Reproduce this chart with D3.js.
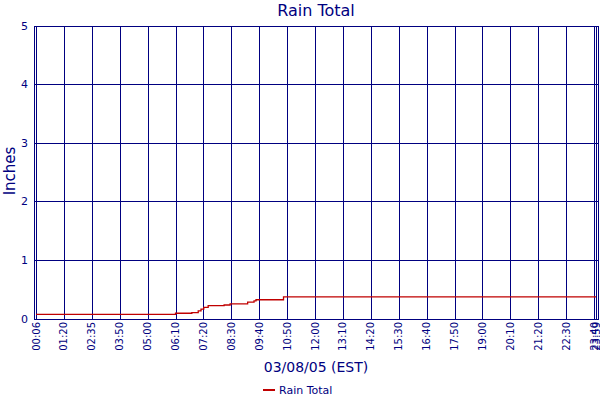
<!DOCTYPE html>
<html>
<head>
<meta charset="utf-8">
<script src="https://cdn.jsdelivr.net/npm/d3@7"></script>
<style>
  body { margin: 0; background: #fff; }
  svg { display: block; font-family: "DejaVu Sans", Verdana, sans-serif; }
</style>
</head>
<body>
<div id="chart"></div>
<script>
// rain total, 03/08/05 -- times are "HH:MM", values in inches
const rainTimes = ["00:06", "06:10", "06:51", "07:07", "07:14", "07:21", "07:32", "08:12", "08:27", "09:11", "09:27", "09:32", "10:41", "23:59"];
const rainValues = [0.07, 0.09, 0.10, 0.13, 0.16, 0.19, 0.22, 0.23, 0.25, 0.28, 0.30, 0.32, 0.37, 0.37];

const xTickLabels = ["00:06", "01:20", "02:35", "03:50", "05:00", "06:10", "07:20", "08:30", "09:40", "10:50",
    "12:00", "13:10", "14:20", "15:30", "16:40", "17:50", "19:00", "20:10", "21:20", "22:30", "23:40", "23:59"];
const yTicks = [0, 1, 2, 3, 4, 5];

const navy = "#000080";
const width = 600, height = 400;
const plotLeft = 34, plotRight = 598;
const firstTickX = 36, tickStep = 27.9;

const toMin = s => { const p = s.split(":"); return +p[0] * 60 + +p[1]; };

const svg = d3.select("#chart").append("svg")
    .attr("width", width)
    .attr("height", height);

// the original axis is sample-indexed: labels sit at even spacing,
// the last one is squeezed in right after 23:40
const tickMins = xTickLabels.map(toMin);
const tickPos = tickMins.map((m, i) => i < tickMins.length - 1 ? firstTickX + i * tickStep : firstTickX + (i - 1) * tickStep + 2);
const x = d3.scaleLinear()
    .domain(tickMins)
    .range(tickPos);

const y = d3.scaleLinear()
    .domain([0, 5])
    .range([318.5, 25.5]);

const grid = svg.append("g").attr("stroke", navy).attr("stroke-width", 1).attr("fill", "none");

// horizontal grid
grid.selectAll("line.h")
    .data(yTicks)
    .enter().append("line")
    .attr("x1", plotLeft).attr("x2", plotRight)
    .attr("y1", d => Math.round(y(d)) + 0.5)
    .attr("y2", d => Math.round(y(d)) + 0.5);

// vertical grid
grid.selectAll("line.v")
    .data(xTickLabels)
    .enter().append("line")
    .attr("x1", d => Math.round(x(toMin(d))) + 0.5)
    .attr("x2", d => Math.round(x(toMin(d))) + 0.5)
    .attr("y1", Math.round(y(5)) + 0.5)
    .attr("y2", Math.round(y(0)) + 0.5);

// plot border
grid.append("rect")
    .attr("x", plotLeft + 0.5)
    .attr("y", Math.round(y(5)) + 0.5)
    .attr("width", plotRight - plotLeft)
    .attr("height", Math.round(y(0)) - Math.round(y(5)));

// data line
const pts = rainTimes.map((t, i) => [toMin(t), rainValues[i]]);
svg.append("path")
    .datum(pts)
    .attr("fill", "none")
    .attr("stroke", "#c00000")
    .attr("stroke-width", 1.3)
    .attr("d", d3.line()
        .x(d => x(d[0]))
        .y(d => y(d[1]))
        .curve(d3.curveStepAfter));

// y tick labels
svg.append("g").selectAll("text")
    .data(yTicks)
    .enter().append("text")
    .attr("x", 28)
    .attr("y", d => y(d) + 4)
    .attr("text-anchor", "end")
    .attr("font-size", 11)
    .attr("fill", navy)
    .text(d => d);

// x tick labels, rotated
svg.append("g").selectAll("text")
    .data(xTickLabels)
    .enter().append("text")
    .attr("transform", d => `translate(${x(toMin(d)) + 3.5},322) rotate(-90)`)
    .attr("text-anchor", "end")
    .attr("font-size", 10)
    .attr("fill", navy)
    .text(d => d);

// titles
svg.append("text")
    .attr("x", 316).attr("y", 16)
    .attr("text-anchor", "middle")
    .attr("font-size", 16)
    .attr("fill", navy)
    .text("Rain Total");

svg.append("text")
    .attr("transform", "translate(15,171) rotate(-90)")
    .attr("text-anchor", "middle")
    .attr("font-size", 15)
    .attr("fill", navy)
    .text("Inches");

svg.append("text")
    .attr("x", 316).attr("y", 372)
    .attr("text-anchor", "middle")
    .attr("font-size", 14)
    .attr("fill", navy)
    .text("03/08/05 (EST)");

// legend
const legend = svg.append("g").attr("transform", "translate(263,390)");
legend.append("line")
    .attr("x1", 0).attr("x2", 12)
    .attr("y1", 0).attr("y2", 0)
    .attr("stroke", "#c00000")
    .attr("stroke-width", 2);
legend.append("text")
    .attr("x", 16).attr("y", 4)
    .attr("font-size", 11)
    .attr("fill", navy)
    .text("Rain Total");
</script>
</body>
</html>
